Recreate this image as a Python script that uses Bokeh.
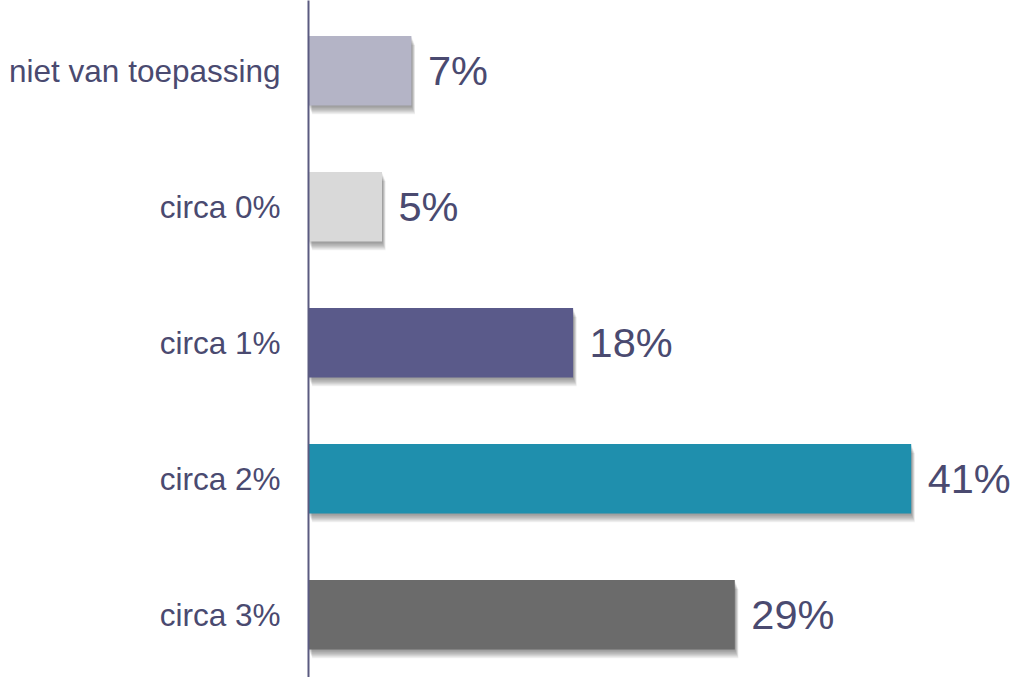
from bokeh.plotting import figure
from bokeh.models import Range1d, FixedTicker, ColumnDataSource
from bokeh.core.properties import value
from bokeh.embed import file_html
from bokeh.resources import INLINE

categories = ["niet van toepassing", "circa 0%", "circa 1%", "circa 2%", "circa 3%"]
values = [7, 5, 18, 41, 29]
colors = ["#b4b4c6", "#d9d9d9", "#5a5a8a", "#1f8fad", "#6b6b6b"]
labels = [f"{v}%" for v in values]

TEXT = "#4a4a70"
FONT = "Liberation Sans"

W, H = 1019, 677
LEFT = 308
PX_PER_UNIT_X = 14.7
PX_PER_ROW = 136.0
TOP_CENTER = 70.3

xmax = (W - LEFT) / PX_PER_UNIT_X
ytop = -TOP_CENTER / PX_PER_ROW
ybot = (H - TOP_CENTER) / PX_PER_ROW

p = figure(width=W, height=H, output_backend="svg", toolbar_location=None,
           x_range=Range1d(0, xmax), y_range=Range1d(ybot, ytop),
           min_border_left=LEFT, min_border_right=0, min_border_top=0, min_border_bottom=0)

idx = list(range(len(categories)))

# soft shadow layers
for k in range(1, 9):
    dx = (0.45 * k) / PX_PER_UNIT_X
    dy = (1.1 * k) / PX_PER_ROW
    src = ColumnDataSource(dict(y=[i + dy for i in idx], left=[dx] * len(idx),
                                right=[v + dx for v in values]))
    p.hbar(y="y", left="left", right="right", height=0.51, source=src,
           fill_color="black", fill_alpha=0.06, line_color=None)

src = ColumnDataSource(dict(y=idx, right=values, color=colors, label=labels,
                            lx=[v + 16.5 / PX_PER_UNIT_X for v in values]))
p.hbar(y="y", left=0, right="right", height=0.51, source=src,
       fill_color="color", line_color=None)
p.text(x="lx", y="y", text="label", source=src, text_font=value(FONT),
       text_font_size="41.5px", text_color=TEXT, text_baseline="middle", text_align="left")

p.xaxis.visible = False
p.xgrid.visible = False
p.ygrid.visible = False
p.outline_line_color = None

ya = p.yaxis[0]
ya.ticker = FixedTicker(ticks=idx)
ya.major_label_overrides = {i: c for i, c in zip(idx, categories)}
ya.major_label_text_font = FONT
ya.major_label_text_font_size = "31.5px"
ya.major_label_text_color = TEXT
ya.major_tick_line_color = None
ya.minor_tick_line_color = None
ya.major_tick_out = 0
ya.major_tick_in = 0
ya.major_label_standoff = 28
ya.axis_line_color = "#5a5a80"
ya.axis_line_width = 2

open("out.html", "w").write(file_html(p, INLINE))
